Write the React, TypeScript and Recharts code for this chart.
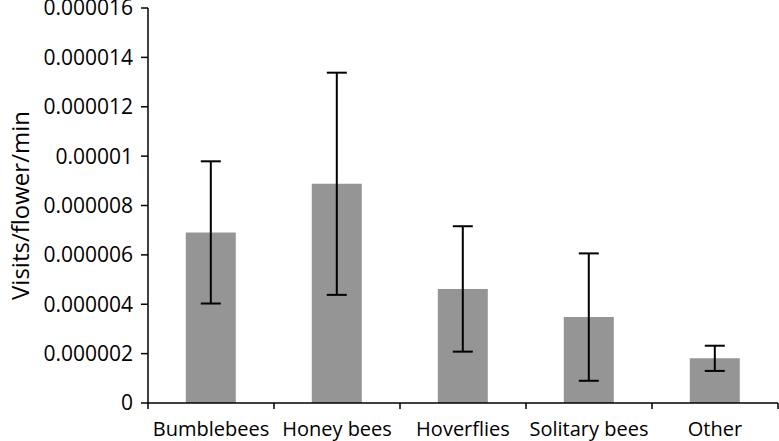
import React from 'react';
import { BarChart, Bar, XAxis, YAxis, ErrorBar } from 'recharts';

const groups = ['Bumblebees', 'Honey bees', 'Hoverflies', 'Solitary bees', 'Other'];
const visits = [0.00000691, 0.00000888, 0.00000462, 0.00000348, 0.00000181];
const errors = [0.00000288, 0.0000045, 0.00000254, 0.00000258, 0.00000051];
const yTicks = [0, 0.000002, 0.000004, 0.000006, 0.000008, 0.00001, 0.000012, 0.000014, 0.000016];

const data = groups.map((name, i) => ({ name, value: visits[i], err: errors[i] }));

const font = '"Open Sans", sans-serif';

const CategoryTick = (props: any) => {
  const { x, y, payload, index } = props;
  const half = payload && payload.offset ? payload.offset : 63;
  const axisY = y - 19;
  return (
    <g>
      <line x1={x - half} x2={x - half} y1={axisY} y2={axisY + 6} stroke="#000" strokeWidth={1.5} />
      {index === groups.length - 1 && (
        <line x1={x + half} x2={x + half} y1={axisY} y2={axisY + 6} stroke="#000" strokeWidth={1.5} />
      )}
      <text x={x} y={y} dy="0.71em" textAnchor="middle" fill="#000" fontSize={20} fontFamily={font}>
        {payload.value}
      </text>
    </g>
  );
};

const App = () => {
  return (
    <div style={{ position: 'absolute', left: 0, top: 0, background: '#fff' }}>
      <BarChart
        width={779}
        height={441}
        data={data}
        margin={{ top: 8, right: 1, bottom: 0, left: 0 }}
        barCategoryGap="30%"
      >
        <XAxis
          dataKey="name"
          height={38}
          interval={0}
          axisLine={{ stroke: '#000', strokeWidth: 1.5 }}
          tickLine={false}
          tickSize={0}
          tickMargin={19}
          tick={<CategoryTick />}
        />
        <YAxis
          width={148}
          domain={[0, 0.000016]}
          ticks={yTicks}
          interval={0}
          tickFormatter={(v: number) => String(v)}
          axisLine={{ stroke: '#000', strokeWidth: 1.5 }}
          tickLine={{ stroke: '#000', strokeWidth: 1.5 }}
          tickSize={7}
          tickMargin={8}
          tick={{ fill: '#000', fontSize: 21, fontFamily: font }}
          label={{
            value: 'Visits/flower/min',
            angle: -90,
            position: 'insideLeft',
            offset: 20,
            style: { textAnchor: 'middle', fill: '#000', fontSize: 24, fontFamily: font },
          }}
        />
        <Bar dataKey="value" fill="#959595" isAnimationActive={false}>
          <ErrorBar dataKey="err" width={10} stroke="#000" strokeWidth={2} isAnimationActive={false} />
        </Bar>
      </BarChart>
    </div>
  );
};

export default App;
